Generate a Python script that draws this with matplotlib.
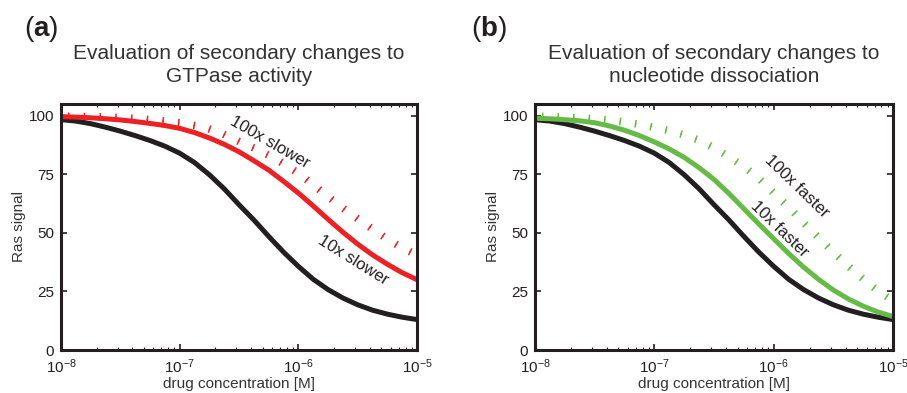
import numpy as np
import matplotlib
matplotlib.use('Agg')
import matplotlib.pyplot as plt
from matplotlib import patheffects
from matplotlib.ticker import LogLocator, FixedLocator

plt.rcParams['font.family'] = ['Liberation Sans', 'DejaVu Sans']
plt.rcParams['mathtext.fontset'] = 'custom'
plt.rcParams['mathtext.rm'] = 'Liberation Sans'
plt.rcParams['mathtext.bf'] = 'Liberation Sans:bold'

# Data (every 1/8 decade from 1e-8 to 1e-5 M)
log_conc = [-8, -7.875, -7.75, -7.625, -7.5, -7.375, -7.25, -7.125, -7,
            -6.875, -6.75, -6.625, -6.5, -6.375, -6.25, -6.125, -6,
            -5.875, -5.75, -5.625, -5.5, -5.375, -5.25, -5.125, -5]
conc = [10 ** v for v in log_conc]

wild_type = [98.3, 97.7, 96.6, 95.1, 93.4, 91.5, 89.4, 87.0, 84.0,
             80.0, 74.8, 68.8, 62.0, 55.5, 48.5, 41.8, 35.7,
             30.2, 25.8, 22.2, 19.3, 17.0, 15.3, 14.0, 13.0]

# (a) GTPase activity
slower_10x = [99.6, 99.4, 99.1, 98.7, 98.2, 97.5, 96.7, 95.8, 94.6,
              92.8, 90.5, 87.8, 84.6, 80.8, 76.8, 72.0, 67.0,
              61.5, 55.8, 50.3, 45.2, 40.6, 36.6, 33.0, 30.0]
slower_100x = [99.8, 99.7, 99.6, 99.4, 99.2, 98.8, 98.3, 97.7, 97.0,
               95.8, 94.3, 92.0, 89.0, 86.2, 83.1, 79.5, 75.5,
               70.5, 65.5, 60.6, 56.0, 51.6, 47.3, 43.6, 40.5]

# (b) nucleotide dissociation
faster_10x = [98.9, 98.7, 98.3, 97.8, 97.0, 95.6, 93.8, 91.5, 88.8,
              85.8, 82.2, 77.8, 72.8, 66.8, 60.3, 53.8, 47.5,
              41.2, 35.4, 30.2, 25.6, 21.8, 18.7, 16.2, 14.3]
faster_100x = [99.8, 99.6, 99.4, 99.1, 98.7, 98.1, 97.3, 96.3, 95.0,
               93.6, 91.8, 89.5, 86.3, 82.5, 78.3, 73.3, 67.0,
               61.0, 54.4, 48.0, 41.8, 35.8, 30.3, 25.2, 21.0]

y_ticks = [0, 25, 50, 75, 100]

black = '#231f20'
red = '#ed2024'
green = '#66bb46'

# dotted curves look like little ticks across the line
ticked = [patheffects.TickedStroke(spacing=11, angle=90, length=0.2, linewidth=1.1),
          patheffects.TickedStroke(spacing=11, angle=-90, length=0.2, linewidth=1.1)]

fig = plt.figure(figsize=(9.07, 3.93), dpi=100)


def setup_axes(ax):
    ax.set_xscale('log')
    ax.set_xlim(1e-8, 1e-5)
    ax.set_ylim(0, 105)
    ax.yaxis.set_major_locator(FixedLocator(y_ticks))
    ax.xaxis.set_major_locator(LogLocator(base=10, numticks=10))
    ax.xaxis.set_minor_locator(LogLocator(base=10, subs=np.arange(2, 10), numticks=10))
    ax.tick_params(which='both', direction='in', top=True, right=True, labelsize=11, colors=black)
    ax.tick_params(which='major', length=4, width=1.2, pad=5)
    ax.tick_params(which='minor', length=2, width=0.8)
    for s in ax.spines.values():
        s.set_linewidth(2.2)
        s.set_color(black)
    ax.set_xlabel('drug concentration [M]', fontsize=11, color='#333333', labelpad=1)
    ax.set_ylabel('Ras signal', fontsize=11, color='#333333', labelpad=2)


# Panel (a)
ax1 = fig.add_axes([0.0673, 0.1094, 0.3925, 0.626])
setup_axes(ax1)
ax1.plot(conc, slower_100x, color=red, path_effects=ticked)
ax1.plot(conc, wild_type, color=black, lw=3.6)
ax1.plot(conc, slower_10x, color=red, lw=3.6)
ax1.text(5.78e-7, 88.6, '100x slower', rotation=-30, fontsize=12, color=black, ha='center', va='center')
ax1.text(2.9e-6, 38.3, '10x slower', rotation=-32, fontsize=12, color=black, ha='center', va='center')
ax1.set_title('Evaluation of secondary changes to\nGTPase activity', fontsize=15, color='#333333', pad=16, linespacing=1.25)
fig.text(0.027, 0.926, r'($\mathbf{a}$)', fontsize=20, color=black, va='center')

# Panel (b)
ax2 = fig.add_axes([0.5899, 0.1094, 0.3947, 0.626])
setup_axes(ax2)
ax2.plot(conc, faster_100x, color=green, path_effects=ticked)
ax2.plot(conc, wild_type, color=black, lw=3.6)
ax2.plot(conc, faster_10x, color=green, lw=3.6)
ax2.text(1.56e-6, 69.9, '100x faster', rotation=-44, fontsize=12, color=black, ha='center', va='center')
ax2.text(1.11e-6, 51.6, '10x faster', rotation=-44, fontsize=12, color=black, ha='center', va='center')
ax2.set_title('Evaluation of secondary changes to\nnucleotide dissociation', fontsize=15, color='#333333', pad=16, linespacing=1.25)
fig.text(0.519, 0.926, r'($\mathbf{b}$)', fontsize=20, color=black, va='center')

fig.savefig('out.png', dpi=100)
